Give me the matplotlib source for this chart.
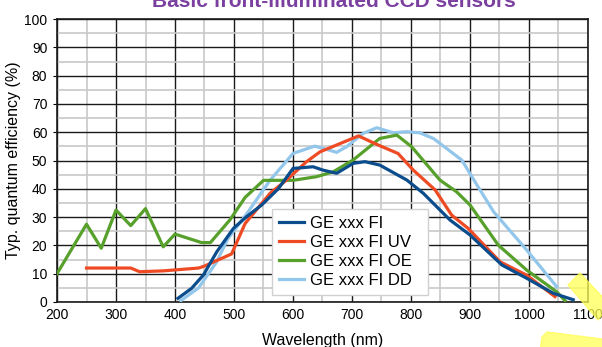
import matplotlib
matplotlib.use("Agg")
import matplotlib.pyplot as plt
from matplotlib.patches import Polygon
from matplotlib.ticker import MultipleLocator

plt.rcParams['font.family'] = ['Liberation Sans', 'DejaVu Sans']

# GE xxx FI
fi_x = [405, 428, 448, 471, 499, 521, 547, 575, 600, 634, 651, 674, 702, 722, 747, 793, 821, 866, 900, 954, 996, 1041, 1075]
fi_y = [1.3, 4.8, 9.5, 17.8, 26, 30.1, 34.3, 40, 47.2, 47.8, 46.6, 45.5, 49, 49.6, 48.4, 43.1, 38.4, 29, 23.7, 13.1, 8.4, 3.1, 0.8]

# GE xxx FI UV
uv_x = [250, 325, 340, 380, 440, 450, 496, 519, 533, 561, 589, 623, 646, 674, 711, 742, 778, 804, 841, 869, 897, 951, 996, 1044]
uv_y = [12, 12, 10.7, 11, 12, 12.7, 17, 27.8, 31.3, 38.4, 43.1, 49.6, 53.1, 55.5, 58.7, 55.7, 52.5, 46.6, 39.6, 30.7, 26, 14.2, 9.5, 1.9]

# GE xxx FI OE
oe_x = [200, 250, 275, 300, 325, 350, 380, 400, 445, 460, 493, 519, 550, 600, 640, 668, 702, 747, 776, 801, 849, 877, 900, 948, 996, 1047, 1061]
oe_y = [10, 27.5, 19, 32.5, 27, 33, 19.5, 24, 21, 21, 29, 37, 43, 43, 44.3, 46, 50.2, 57.8, 59, 54.9, 43.1, 39, 34.3, 20.1, 11.3, 3.6, 0.5]

# GE xxx FI DD
dd_x = [410, 440, 470, 490, 521, 561, 600, 617, 637, 651, 674, 691, 719, 742, 770, 793, 815, 838, 886, 912, 940, 996, 1047]
dd_y = [0.5, 5, 14, 22.5, 31, 43, 52.5, 53.7, 55.1, 54.3, 52.9, 54.9, 59.6, 61.6, 59.8, 60.2, 59.8, 57.8, 50.2, 41.3, 31.9, 18.4, 5.4]

fig = plt.figure(figsize=(6.02, 3.47), dpi=100)
ax = fig.add_axes([0.0947, 0.1297, 0.882, 0.8153])

ax.plot(dd_x, dd_y, color='#92C6EA', lw=2.3, label='GE xxx FI DD', zorder=3)
ax.plot(oe_x, oe_y, color='#57A02B', lw=2.3, label='GE xxx FI OE', zorder=3)
ax.plot(uv_x, uv_y, color='#EE4B25', lw=2.3, label='GE xxx FI UV', zorder=3)
ax.plot(fi_x, fi_y, color='#0A4C8C', lw=2.3, label='GE xxx FI', zorder=4)

ax.set_xlim(200, 1100)
ax.set_ylim(0, 100)
ax.xaxis.set_major_locator(MultipleLocator(100))
ax.xaxis.set_minor_locator(MultipleLocator(50))
ax.yaxis.set_major_locator(MultipleLocator(10))
ax.yaxis.set_minor_locator(MultipleLocator(5))
ax.grid(which='major', color='#1a1a1a', lw=1.0)
ax.grid(which='minor', color='#c8c8c8', lw=1.2)
ax.set_axisbelow(True)
ax.tick_params(which='both', length=0, labelsize=10, pad=4)
ax.tick_params(which='major', axis='y', length=3)
for s in ax.spines.values():
    s.set_color('#1a1a1a')
    s.set_linewidth(1.2)

ax.set_xlabel('Wavelength (nm)', fontsize=11.5, labelpad=8)
ax.set_ylabel('Typ. quantum efficiency (%)', fontsize=11.5, labelpad=2)

h, l = ax.get_legend_handles_labels()
order = [3, 2, 1, 0]
leg = ax.legend([h[i] for i in order], [l[i] for i in order],
                loc='lower left', bbox_to_anchor=(0.405, 0.025, 0.294, 0.30),
                mode='expand', fontsize=12, fancybox=False, framealpha=1,
                edgecolor='#d0d0d0', handlelength=1.5, handletextpad=0.4,
                labelspacing=0.25, borderaxespad=0)
leg.set_zorder(5)

fig.text(0.555, 0.98, 'Basic front-illuminated CCD sensors', ha='center',
         va='baseline', fontsize=15, fontweight='bold', color='#7B3FA0')

# yellow highlighter strokes
px = lambda x, y: (x / 602, 1 - y / 347)
fig.patches.append(Polygon([px(568, 285), px(580, 273), px(610, 305), px(598, 320)],
                           closed=True, transform=fig.transFigure,
                           color='#FFFF55', alpha=0.75, zorder=10))
fig.patches.append(Polygon([px(542, 337), px(547, 332), px(610, 340), px(610, 352), px(540, 352)],
                           closed=True, transform=fig.transFigure,
                           color='#FFFF55', alpha=0.75, zorder=10))

fig.savefig('out.png', dpi=100)
